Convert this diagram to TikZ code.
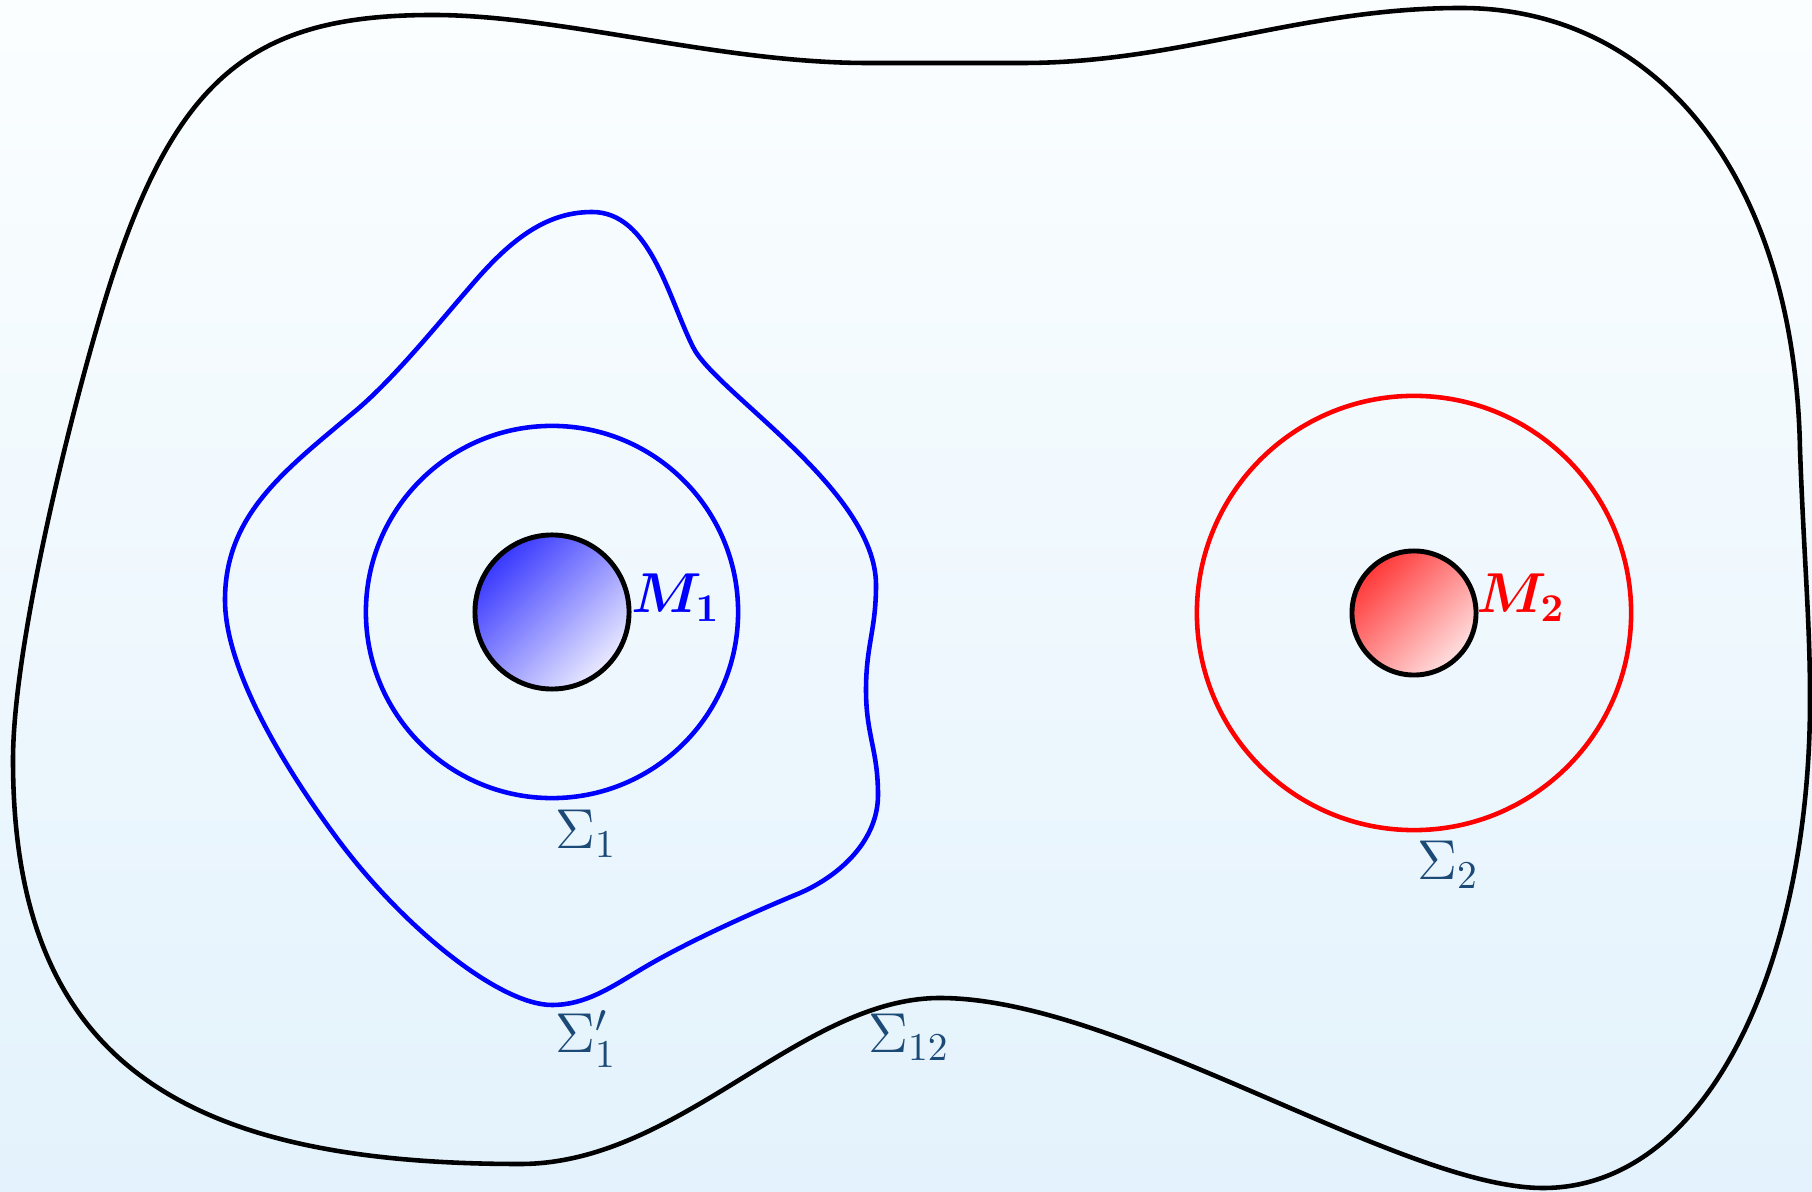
\RequirePackage{fix-cm}
\documentclass[tikz,border=0pt]{standalone}
\usepackage{amsmath}
\definecolor{labcol}{RGB}{28,74,118}
\definecolor{bgtop}{RGB}{251,254,255}
\definecolor{bgbot}{RGB}{227,242,252}
\begin{document}
\begin{tikzpicture}[x=0.01cm,y=-0.01cm,line width=1.3pt,
  lab/.style={anchor=base west,inner sep=0pt,text=labcol,font=\fontsize{16}{19}\selectfont},
  mlab/.style={anchor=base west,inner sep=0pt,font=\fontsize{16}{19}\selectfont},
  mass/.style={circle,draw=black,inner sep=0pt,line width=1.4pt},
  surf/.style={circle,inner sep=0pt,line width=1.3pt}]
\shade[top color=bgtop,bottom color=bgbot] (0,0) rectangle (1812,1192);
\useasboundingbox (0,0) rectangle (1812,1192);
% outer surface Sigma_12
\draw[black] (867,63) -- (1023,63)
 .. controls (1180,63) and (1300,8) .. (1461,8)
 .. controls (1660,8) and (1795,180) .. (1800,450)
 .. controls (1804,560) and (1810,620) .. (1810,700)
 .. controls (1810,960) and (1710,1188) .. (1543,1188)
 .. controls (1400,1188) and (1120,998) .. (940,998)
 .. controls (800,998) and (680,1164) .. (520,1164)
 .. controls (180,1164) and (13,1060) .. (13,760)
 .. controls (13,650) and (66,432) .. (100,317)
 .. controls (170,77) and (250,15) .. (433,15)
 .. controls (560,15) and (720,63) .. cycle;
% wavy surface Sigma_1'
\draw[blue] (592,212)
 .. controls (650,212) and (668,297) .. (693,347)
 .. controls (715,392) and (876,490) .. (876,585)
 .. controls (876,630) and (866,645) .. (866,690)
 .. controls (866,735) and (878,750) .. (878,795)
 .. controls (878,840) and (841,875) .. (800,893)
 .. controls (749,914) and (683,944) .. (640,970)
 .. controls (610,988) and (585,1005) .. (552,1005)
 .. controls (500,1005) and (405,929) .. (339,841)
 .. controls (303,793) and (225,680) .. (225,600)
 .. controls (225,515) and (284,471) .. (353,413)
 .. controls (392,381) and (437,325) .. (470,287)
 .. controls (509,241) and (545,212) .. cycle;
\node[surf,draw=blue,minimum size=3.72cm] (S1) at (552,612) {};
\node[surf,draw=red,minimum size=4.34cm] (S2) at (1414,613) {};
\node[mass,top color=blue!78,bottom color=blue!8,shading angle=45,minimum size=1.54cm] (M1) at (552,612) {};
\node[mass,top color=red!78,bottom color=red!12,shading angle=45,minimum size=1.24cm] (M2) at (1414,613) {};
\node[mlab,text=blue] (m1) at (629,613) {$\boldsymbol{M_1}$};
\node[mlab,text=red] (m2) at (1474,613) {$\boldsymbol{M_2}$};
\node[lab] (s1) at (553,849) {$\Sigma_1$};
\node[lab] (s1p) at (553,1053) {$\Sigma_1'$};
\node[lab] (s12) at (866,1052) {$\Sigma_{12}$};
\node[lab] (s2) at (1415,880) {$\Sigma_2$};
\end{tikzpicture}
\end{document}
